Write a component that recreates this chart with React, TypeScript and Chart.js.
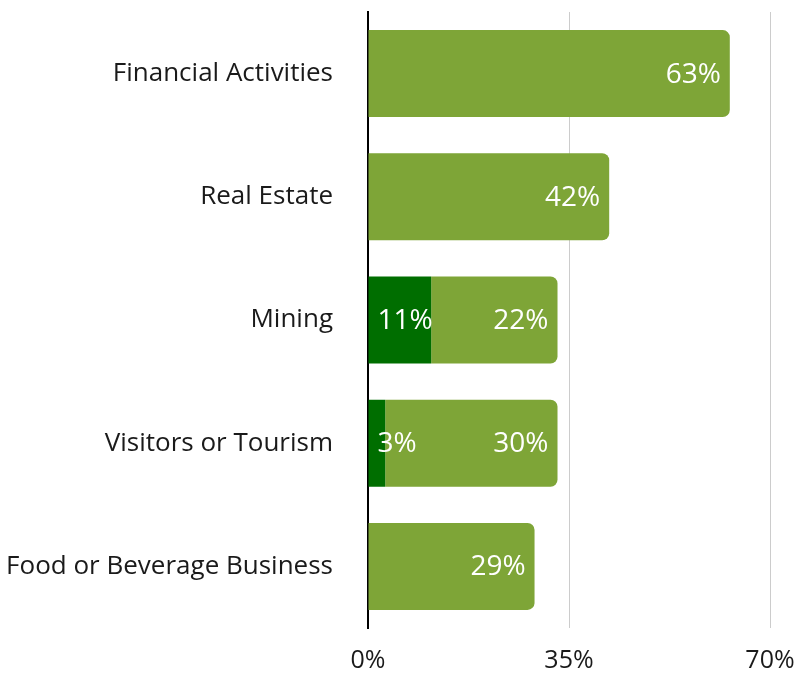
import React, { useEffect, useRef } from "react";
import { Chart, registerables } from "chart.js";

Chart.register(...registerables);

const categories = [
  "Financial Activities",
  "Real Estate",
  "Mining",
  "Visitors or Tourism",
  "Food or Beverage Business",
];
const darkValues = [0, 0, 11, 3, 0];
const lightValues = [63, 42, 22, 30, 29];
const xTicks = [0, 35, 70];

const FONT = "'Open Sans', Lato, sans-serif";

const labelPlugin = {
  id: "barLabels",
  afterDatasetsDraw(chart: any) {
    const ctx = chart.ctx;
    ctx.save();
    ctx.fillStyle = "#ffffff";
    ctx.font = `28px ${FONT}`;
    ctx.textBaseline = "middle";
    chart.data.datasets.forEach((ds: any, di: number) => {
      const meta = chart.getDatasetMeta(di);
      meta.data.forEach((bar: any, i: number) => {
        const v = ds.data[i];
        if (!v) return;
        const txt = `${v}%`;
        if (di === 0) {
          ctx.textAlign = "left";
          ctx.fillText(txt, bar.base + 9, bar.y + 1);
        } else {
          ctx.textAlign = "right";
          ctx.fillText(txt, bar.x - 9, bar.y + 1);
        }
      });
    });
    ctx.restore();
  },
};

export default function App() {
  const ref = useRef<HTMLCanvasElement>(null);
  useEffect(() => {
    if (!ref.current) return;
    const chart = new Chart(ref.current, {
      type: "bar",
      data: {
        labels: categories,
        datasets: [
          {
            data: darkValues,
            backgroundColor: "#006e00",
            borderRadius: 0,
            barPercentage: 0.706,
            categoryPercentage: 1,
          },
          {
            data: lightValues,
            backgroundColor: "#7ea537",
            borderRadius: 7,
            borderSkipped: "start",
            barPercentage: 0.706,
            categoryPercentage: 1,
          },
        ],
      },
      options: {
        indexAxis: "y",
        animation: false,
        responsive: false,
        maintainAspectRatio: false,
        layout: { padding: { top: 12, right: 24, bottom: 0, left: 0 } },
        plugins: {
          legend: { display: false },
          tooltip: { enabled: false },
        },
        scales: {
          x: {
            stacked: true,
            min: 0,
            max: 70,
            afterBuildTicks: (scale: any) => {
              scale.ticks = xTicks.map((v) => ({ value: v }));
            },
            afterFit: (scale: any) => {
              scale.height = 50;
              scale.paddingLeft = 0;
              scale.paddingRight = 0;
            },
            ticks: {
              stepSize: 35,
              padding: 18,
              color: "#1a1a1a",
              font: { family: FONT, size: 25 },
              callback: (v: any) => `${v}%`,
            },
            grid: {
              drawTicks: false,
              color: (c: any) => (c.tick && c.tick.value === 0 ? "rgba(0,0,0,0)" : "#cccccc"),
              lineWidth: 1,
            },
            border: { display: false },
          },
          y: {
            stacked: true,
            afterFit: (scale: any) => {
              scale.width = 368;
              scale.paddingTop = 0;
              scale.paddingBottom = 0;
            },
            ticks: {
              padding: 35,
              color: "#1a1a1a",
              font: { family: FONT, size: 26 },
            },
            grid: { display: false, drawTicks: false },
            border: { display: true, color: "#000000", width: 2 },
          },
        },
      },
      plugins: [labelPlugin],
    });
    return () => chart.destroy();
  }, []);
  return (
    <div style={{ position: "fixed", left: 0, top: 0, width: 794, height: 678, background: "#fff" }}>
      <canvas ref={ref} width={794} height={678} style={{ width: 794, height: 678 }} />
    </div>
  );
}
